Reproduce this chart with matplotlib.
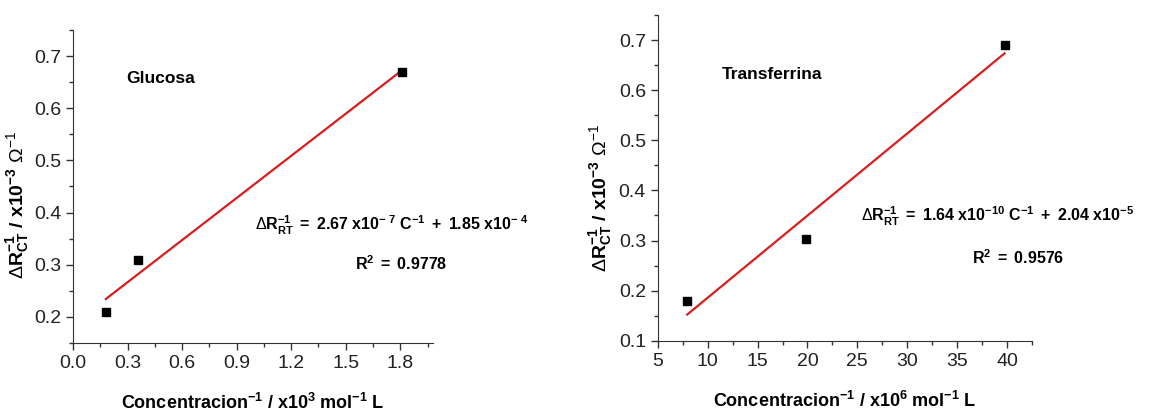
import numpy as np
import matplotlib.pyplot as plt
from matplotlib.ticker import MultipleLocator

plt.rcParams['font.family'] = ['Liberation Sans', 'DejaVu Sans']
plt.rcParams['mathtext.fontset'] = 'custom'
plt.rcParams['mathtext.rm'] = 'Liberation Sans'
plt.rcParams['mathtext.bf'] = 'Liberation Sans:bold'
plt.rcParams['mathtext.it'] = 'Liberation Sans:italic'

# Glucosa data
glu_x = [0.18, 0.36, 1.81]
glu_y = [0.21, 0.31, 0.67]

# Transferrina data
tra_x = [7.95, 19.85, 39.75]
tra_y = [0.18, 0.303, 0.69]

ylab = r'$\Delta\mathbf{R^{-1}_{CT}\ /\ x10^{-3}}\ \Omega^{-1}$'

fig = plt.figure(figsize=(11.52, 4.12), dpi=100)
ax1 = fig.add_axes([0.0634, 0.1675, 0.3125, 0.7597])
ax2 = fig.add_axes([0.571, 0.173, 0.3248, 0.7906])


def style(ax):
    for s in ['top', 'right']:
        ax.spines[s].set_visible(False)
    ax.spines['left'].set_color('#333333')
    ax.spines['bottom'].set_color('#333333')
    ax.tick_params(which='major', direction='out', length=5, width=1,
                   labelsize=14, color='#333333', labelcolor='#222222')
    ax.tick_params(which='minor', direction='out', length=3, width=1,
                   color='#333333')


def draw(ax, x, y):
    x = np.array(x)
    y = np.array(y)
    k, b = np.polyfit(x, y, 1)
    xs = np.array([x.min(), x.max()])
    ax.plot(xs, k * xs + b, color='#d81e1e', lw=1.6, zorder=2)
    ax.plot(x, y, 's', color='black', ms=5.5, zorder=3)


draw(ax1, glu_x, glu_y)
style(ax1)
ax1.set_xlim(0, 1.98)
ax1.set_ylim(0.15, 0.75)
ax1.xaxis.set_minor_locator(MultipleLocator(0.15))
ax1.yaxis.set_minor_locator(MultipleLocator(0.05))
ax1.set_xticks(np.arange(0, 1.81, 0.3))
ax1.set_xticklabels(['0.0', '0.3', '0.6', '0.9', '1.2', '1.5', '1.8'])
ax1.set_yticks([0.2, 0.3, 0.4, 0.5, 0.6, 0.7])
ax1.set_xlabel(r'$\mathbf{Concentracion^{-1}\ /\ x10^{3}\ mol^{-1}\ L}$', fontsize=13)
ax1.xaxis.set_label_coords(0.5, -0.16)
ax1.set_ylabel(ylab, fontsize=14)
ax1.yaxis.set_label_coords(-0.118, 0.44)
ax1.text(0.29, 0.657, 'Glucosa', fontsize=12.5, fontweight='bold', va='center')
ax1.text(1.0, 0.376, r'$\Delta\mathbf{R^{-1}_{RT}\ =\ 2.67\ x10^{-\ 7}\ C^{-1}\ +\ 1.85\ x10^{-\ 4}}$',
         fontsize=11.5, va='center', ha='left')
ax1.text(1.805, 0.303, r'$\mathbf{R^{2}\ =\ 0.9778}$', fontsize=11.5, va='center', ha='center')

draw(ax2, tra_x, tra_y)
style(ax2)
ax2.set_xlim(5, 42.5)
ax2.set_ylim(0.1, 0.75)
ax2.xaxis.set_minor_locator(MultipleLocator(2.5))
ax2.yaxis.set_minor_locator(MultipleLocator(0.05))
ax2.set_xticks([5, 10, 15, 20, 25, 30, 35, 40])
ax2.set_yticks([0.1, 0.2, 0.3, 0.4, 0.5, 0.6, 0.7])
ax2.set_xlabel(r'$\mathbf{Concentracion^{-1}\ /\ x10^{6}\ mol^{-1}\ L}$', fontsize=13)
ax2.xaxis.set_label_coords(0.5, -0.155)
ax2.set_ylabel(ylab, fontsize=14)
ax2.yaxis.set_label_coords(-0.118, 0.438)
ax2.text(11.4, 0.631, 'Transferrina', fontsize=12.5, fontweight='bold', va='center')
ax2.text(25.4, 0.348, r'$\Delta\mathbf{R^{-1}_{RT}\ =\ 1.64\ x10^{-10}\ C^{-1}\ +\ 2.04\ x10^{-5}}$',
         fontsize=11.5, va='center', ha='left')
ax2.text(41.1, 0.265, r'$\mathbf{R^{2}\ =\ 0.9576}$', fontsize=11.5, va='center', ha='center')

fig.savefig('out.png', dpi=100)
